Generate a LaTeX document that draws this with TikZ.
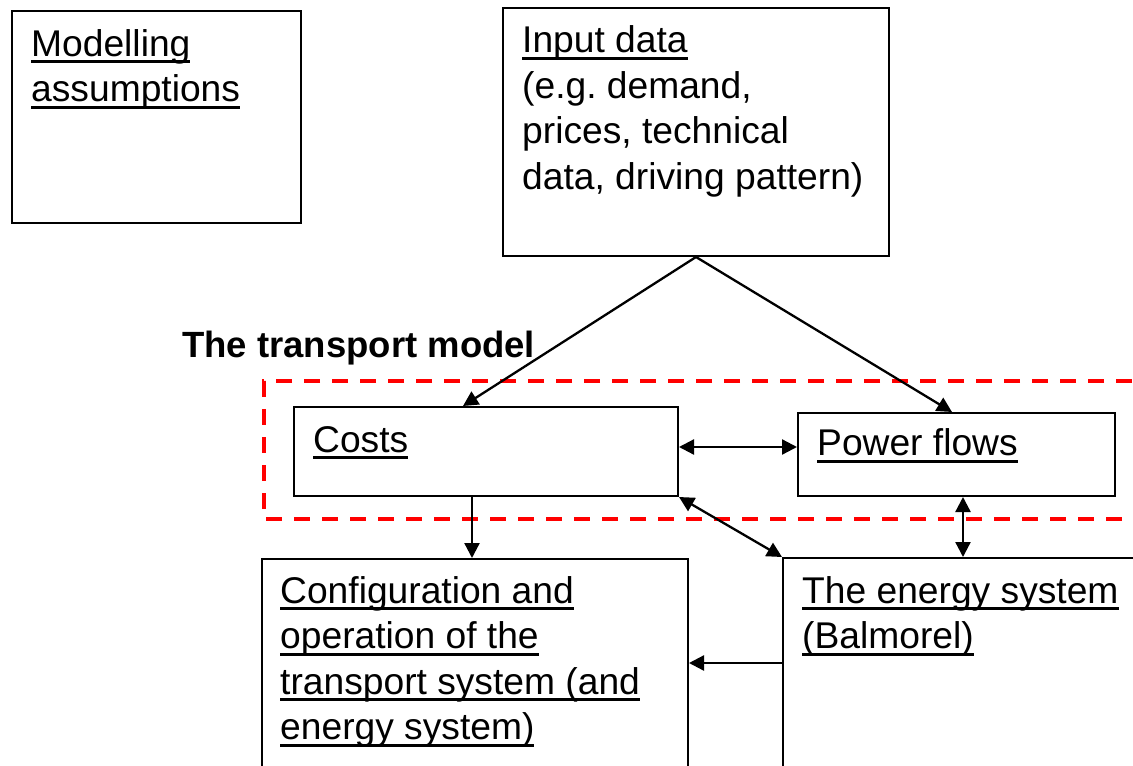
\documentclass[tikz,border=0pt]{standalone}
\usepackage{fontspec}
\setmainfont{Liberation Sans}
\usetikzlibrary{arrows.meta,calc}
\frenchspacing
\newsavebox\ulbox
\newcommand\myul[1]{\sbox\ulbox{#1}\rlap{\rule[-7pt]{\wd\ulbox}{3pt}}\usebox\ulbox}
\tikzset{
  box/.style={draw, line width=2pt, inner sep=0pt, anchor=north west},
  txt/.style={anchor=north west, inner sep=0pt, align=left,
              font=\fontsize{37.2}{45.5}\selectfont\frenchspacing},
  arr/.style={line width=2.3pt, -{Triangle[length=15pt,width=15pt]}},
  dbl/.style={line width=2.3pt, {Triangle[length=15pt,width=15pt]}-{Triangle[length=15pt,width=15pt]}},
  redframe/.style={draw=red, line width=4pt, dash pattern=on 16pt off 12pt}
}
\begin{document}
\begin{tikzpicture}[x=1pt,y=-1pt]
\useasboundingbox (0,0) rectangle (1133,766);
\clip (0,0) rectangle (1133,766);

% red dashed frame of the transport model
\draw[redframe] (1160,381) -- (264,381) -- (264,519) -- (1160,519);

% boxes
\node[box, minimum width=289pt, minimum height=212pt] (assump) at (11,10) {};
\node[box, minimum width=386pt, minimum height=248pt] (input) at (502,7) {};
\node[box, minimum width=384pt, minimum height=89pt] (costs) at (293,406) {};
\node[box, minimum width=317pt, minimum height=83pt] (power) at (797,412) {};
\node[box, minimum width=426pt, minimum height=300pt] (config) at (261,558) {};
\node[box, minimum width=500pt, minimum height=300pt] (energy) at (782,557) {};

% texts
\node[txt] (assumpT) at (31,{56-31.85}) {\strut\myul{Modelling}\\\myul{assumptions}};
\node[txt] (inputT) at (522,{52.5-31.85}) {\strut\myul{Input data}\\(e.g. demand,\\prices, technical\\data, driving pattern)};
\node[txt] (costsT) at (313,{452-31.85}) {\strut\myul{Costs}};
\node[txt] (powerT) at (817,{455.5-31.85}) {\strut\myul{Power flows}};
\node[txt] (configT) at (280,{603-31.85}) {\strut\myul{Configuration and}\\\myul{operation of the}\\\myul{transport system (and}\\\myul{energy system)}};
\node[txt] (energyT) at (802,{603-31.85}) {\strut\myul{The energy system}\\\myul{(Balmorel)}};
\node[anchor=base west, inner sep=0pt, font=\bfseries\fontsize{36.5}{44}\selectfont] (title) at (182,357) {The transport model};

% helper coordinates
\coordinate (c1) at (472,0);
\coordinate (c2) at (963,0);
\coordinate (c3) at (0,663);
\coordinate (c4) at (0,447);
\coordinate (tc) at (463,0);
\coordinate (tp) at (952,0);

% connectors
\draw[arr] (input.south) -- (costs.north -| tc);
\draw[arr] (input.south) -- (power.north -| tp);
\draw[dbl] (costs.east |- c4) -- (power.west |- c4);
\draw[arr] (costs.south -| c1) -- (config.north -| c1);
\draw[dbl] (costs.south east) -- (energy.north west);
\draw[dbl] (power.south -| c2) -- (energy.north -| c2);
\draw[arr] (energy.west |- c3) -- (config.east |- c3);
\end{tikzpicture}
\end{document}
